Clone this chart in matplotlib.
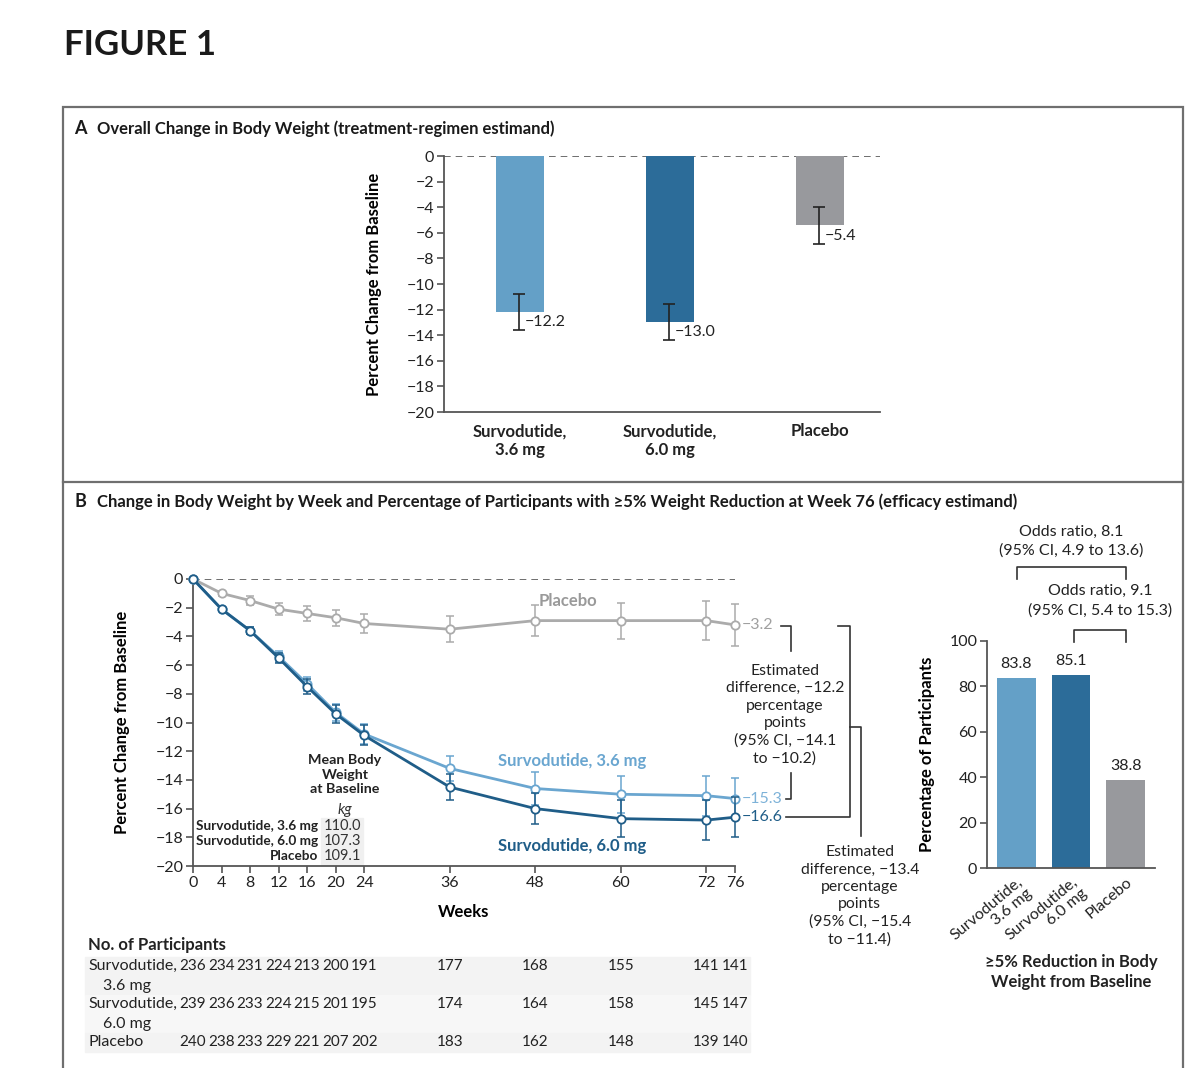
import matplotlib
matplotlib.use("Agg")
import matplotlib.pyplot as plt
from matplotlib.lines import Line2D
from matplotlib.patches import Rectangle
from matplotlib.transforms import blended_transform_factory

plt.rcParams['font.family'] = ['Lato', 'DejaVu Sans']
plt.rcParams['axes.unicode_minus'] = True

# ---- data ----
groups_a = ["Survodutide,\n3.6 mg", "Survodutide,\n6.0 mg", "Placebo"]
change_a = [-12.2, -13.0, -5.4]
ci_low_a = [-13.6, -14.4, -6.9]
ci_high_a = [-10.8, -11.6, -4.0]

weeks = [0, 4, 8, 12, 16, 20, 24, 36, 48, 60, 72, 76]
placebo = [0, -1.0, -1.5, -2.1, -2.4, -2.7, -3.1, -3.5, -2.9, -2.9, -2.9, -3.2]
placebo_err = [0, 0.15, 0.3, 0.4, 0.5, 0.55, 0.65, 0.9, 1.1, 1.25, 1.35, 1.45]
surv36 = [0, -2.1, -3.6, -5.4, -7.3, -9.3, -10.8, -13.2, -14.6, -15.0, -15.1, -15.3]
surv36_err = [0, 0.15, 0.25, 0.35, 0.5, 0.6, 0.7, 0.9, 1.15, 1.3, 1.4, 1.45]
surv60 = [0, -2.1, -3.6, -5.5, -7.5, -9.4, -10.9, -14.5, -16.0, -16.7, -16.8, -16.6]
surv60_err = [0, 0.15, 0.25, 0.35, 0.5, 0.6, 0.7, 0.9, 1.1, 1.3, 1.4, 1.4]
xticks_b = [0, 4, 8, 12, 16, 20, 24, 36, 48, 60, 72, 76]

baseline_names = ["Survodutide, 3.6 mg", "Survodutide, 6.0 mg", "Placebo"]
baseline_kg = ["110.0", "107.3", "109.1"]

pct_5 = [83.8, 85.1, 38.8]
groups_c = ["Survodutide,\n3.6 mg", "Survodutide,\n6.0 mg", "Placebo"]

n_36 = [236, 234, 231, 224, 213, 200, 191, 177, 168, 155, 141, 141]
n_60 = [239, 236, 233, 224, 215, 201, 195, 174, 164, 158, 145, 147]
n_pl = [240, 238, 233, 229, 221, 207, 202, 183, 162, 148, 139, 140]

light = "#64A0C7"
dark = "#2C6C99"
grey = "#98999D"
line36 = "#6AA6D0"
line60 = "#1F5D88"
linepl = "#ABABAB"
axcol = "#555555"
txt = "#222222"

W, H = 1200, 1068
fig = plt.figure(figsize=(W / 100, H / 100), dpi=100)


def box(l, t, r, b):
    return [l / W, 1 - b / H, (r - l) / W, (b - t) / H]


def fx(px):
    return px / W


def fy(py):
    return 1 - py / H


def style_axes(ax):
    for s in ["top", "right"]:
        ax.spines[s].set_visible(False)
    for s in ["left", "bottom"]:
        ax.spines[s].set_color(axcol)
        ax.spines[s].set_linewidth(1.3)
    ax.tick_params(colors=txt, labelsize=11.5, width=1.2, length=5, pad=2)
    ax.tick_params(axis="both", color=axcol)


# ---- frame ----
fig.text(fx(64), fy(45), "FIGURE 1", fontsize=25, fontweight="bold",
         va="center", ha="left", color="#1a1a1a")
fig.add_artist(Rectangle((fx(63), fy(1075)), fx(1183) - fx(63), fy(107) - fy(1075),
                         transform=fig.transFigure, fill=False, ec="#6f6f6f", lw=1.6))
fig.add_artist(Line2D([fx(63), fx(1183)], [fy(482), fy(482)],
                      transform=fig.transFigure, color="#6f6f6f", lw=1.6))
fig.text(fx(74), fy(129), "A", fontsize=13, fontweight="bold", va="center", color="#1a1a1a")
fig.text(fx(97), fy(129), "Overall Change in Body Weight (treatment-regimen estimand)",
         fontsize=12, fontweight="bold", va="center", color="#1a1a1a")
fig.text(fx(74), fy(502), "B", fontsize=13, fontweight="bold", va="center", color="#1a1a1a")
fig.text(fx(97), fy(502), "Change in Body Weight by Week and Percentage of Participants "
         "with \u22655% Weight Reduction at Week 76 (efficacy estimand)",
         fontsize=12, fontweight="bold", va="center", color="#1a1a1a")

# ---- panel A ----
axA = fig.add_axes(box(444, 156, 880, 412))
style_axes(axA)
xa = [0, 1, 2]
axA.bar(xa, change_a, width=0.32, color=[light, dark, grey], zorder=2)
yerr = [[c - lo for c, lo in zip(change_a, ci_low_a)],
        [hi - c for c, hi in zip(change_a, ci_high_a)]]
axA.errorbar([x - 0.01 for x in xa], change_a, yerr=yerr, fmt="none", ecolor=txt,
             elinewidth=1.2, capsize=4, capthick=1.2, zorder=3)
for x, lo, v in zip(xa, ci_low_a, change_a):
    axA.text(x + 0.03, lo + 0.65, f"{v:.1f}".replace("-", "\u2212"),
             fontsize=11.5, va="center", ha="left", color=txt)
axA.axhline(0, color=axcol, lw=1.2, ls=(0, (4, 3)), zorder=1)
axA.set_xlim(-0.507, 2.4)
axA.set_ylim(-20, 0)
axA.set_yticks(range(-20, 1, 2))
axA.set_xticks(xa)
axA.set_xticklabels(groups_a, fontweight="bold", fontsize=12)
axA.tick_params(axis="x", length=0, pad=8)
axA.set_ylabel("Percent Change from Baseline", fontsize=12, fontweight="bold")
axA.yaxis.set_label_coords(-0.142, 0.5)

# ---- panel B line chart ----
axB = fig.add_axes(box(193, 579, 735, 866))
style_axes(axB)
axB.axhline(0, color=axcol, lw=1.2, ls=(0, (4, 3)), zorder=1)
axB.set_xlim(0, 76)
axB.set_ylim(-20, 0)
for y, e, c, z in [(placebo, placebo_err, linepl, 3), (surv36, surv36_err, line36, 4),
                   (surv60, surv60_err, line60, 5)]:
    axB.errorbar(weeks, y, yerr=e, fmt="none", ecolor=c, elinewidth=1.1, capsize=3,
                 capthick=1.1, zorder=z, clip_on=False)
    axB.plot(weeks, y, color=c, lw=2, marker="o", ms=6, mfc="white", mec=c, mew=1.3,
             zorder=z, clip_on=False)
axB.set_xticks(xticks_b)
axB.set_yticks(range(-20, 1, 2))
axB.set_xlabel("Weeks", fontsize=12, fontweight="bold", labelpad=10)
axB.set_ylabel("Percent Change from Baseline", fontsize=12, fontweight="bold")
axB.yaxis.set_label_coords(-0.116, 0.5)

axB.text(52.6, -1.5, "Placebo", color="#9a9a9a", fontsize=12, fontweight="bold",
         ha="center", va="center")
axB.text(53.1, -12.7, "Survodutide, 3.6 mg", color=line36, fontsize=12, fontweight="bold",
         ha="center", va="center")
axB.text(53.1, -18.6, "Survodutide, 6.0 mg", color=line60, fontsize=12, fontweight="bold",
         ha="center", va="center")

# end labels
axB.text(77.0, placebo[-1], "\u22123.2", color="#a0a0a0", fontsize=11.5, va="center",
         ha="left", clip_on=False)
axB.text(77.0, surv36[-1], "\u221215.3", color="#7DB2D8", fontsize=11.5, va="center",
         ha="left", clip_on=False)
axB.text(77.0, surv60[-1], "\u221216.6", color=line60, fontsize=11.5, va="center",
         ha="left", clip_on=False)

# difference brackets
bk = dict(color="#333333", lw=1.2, clip_on=False)
axB.plot([82.4, 83.9, 83.9], [-3.25, -3.25, -5.05], **bk)
axB.plot([83.1, 83.9, 83.9], [-15.3, -15.3, -13.5], **bk)
axB.text(83.0, -9.45, "Estimated\ndifference, \u221212.2\npercentage\npoints\n"
         "(95% CI, \u221214.1\nto \u221210.2)", ha="center", va="center",
         fontsize=11.3, linespacing=1.3, color=txt)
axB.plot([90.5, 92.1, 92.1, 83.1], [-3.25, -3.25, -16.6, -16.6], **bk)
axB.plot([92.1, 93.6, 93.6], [-10.3, -10.3, -17.9], **bk)
axB.text(93.5, -22.1, "Estimated\ndifference, \u221213.4\npercentage\npoints\n"
         "(95% CI, \u221215.4\nto \u221211.4)", ha="center", va="center",
         fontsize=11.3, linespacing=1.3, color=txt, clip_on=False)

# mean body weight inset
axB.text(21.3, -13.65, "Mean Body\nWeight\nat Baseline", ha="center", va="center",
         fontsize=10.3, fontweight="bold", linespacing=1.25, color=txt, zorder=6)
axB.text(21.3, -16.1, "kg", ha="center", va="center", fontsize=11, style="italic",
         color="#333333")
axB.add_patch(Rectangle((18.0, -19.95), 5.8, 3.3, color="#f0f0f0", zorder=0.5))
for i, (nm, kg) in enumerate(zip(baseline_names, baseline_kg)):
    yy = -17.2 - 1.05 * i
    axB.text(17.6, yy, nm, ha="right", va="center", fontsize=9.8, fontweight="bold",
             color=txt)
    axB.text(18.4, yy, kg, ha="left", va="center", fontsize=10.5, color="#333333")

# ---- panel B bar chart ----
axC = fig.add_axes(box(987, 641, 1155, 868))
style_axes(axC)
xc = [0, 1, 2]
axC.bar(xc, pct_5, width=0.71, color=[light, dark, grey])
for x, v in zip(xc, pct_5):
    axC.text(x, v + 3, f"{v:.1f}", ha="center", va="bottom", fontsize=11.5, color=txt)
axC.set_xlim(-0.53, 2.53)
axC.set_ylim(0, 100)
axC.set_yticks(range(0, 101, 20))
axC.set_xticks(xc)
axC.set_xticklabels(groups_c, rotation=40, ha="right", rotation_mode="anchor",
                    fontsize=11.5, linespacing=1.1)
axC.tick_params(axis="x", length=0, pad=5)
axC.set_ylabel("Percentage of Participants", fontsize=12, fontweight="bold")
axC.yaxis.set_label_coords(-0.31, 0.5)
axC.plot([0.02, 0.02, 2.0, 2.0], [127.5, 132.5, 132.5, 127.5], **bk)
axC.text(1.0, 148, "Odds ratio, 8.1", ha="center", va="center", fontsize=11.5,
         color=txt)
axC.text(1.0, 140, "(95% CI, 4.9 to 13.6)", ha="center", va="center", fontsize=11.5,
         color=txt)
axC.plot([1.05, 1.05, 2.0, 2.0], [99.5, 104.8, 104.8, 99.5], **bk)
axC.text(1.53, 122, "Odds ratio, 9.1", ha="center", va="center", fontsize=11.5,
         color=txt)
axC.text(1.53, 113.5, "(95% CI, 5.4 to 15.3)", ha="center", va="center", fontsize=11.5,
         color=txt)
fig.text(fx(1071), fy(972), "\u22655% Reduction in Body\nWeight from Baseline",
         ha="center", va="center", fontsize=12, fontweight="bold", linespacing=1.25,
         color=txt)

# ---- number at risk table ----
for top, bot, c in [(957, 995, "#f3f3f3"), (995, 1033, "#f7f7f7"), (1033, 1052, "#f3f3f3")]:
    fig.add_artist(Rectangle((fx(85), fy(bot)), fx(750) - fx(85), fy(top) - fy(bot),
                             transform=fig.transFigure, color=c, zorder=0))
fig.text(fx(88), fy(945), "No. of Participants", fontsize=12, fontweight="bold",
         va="center", color=txt)
row_y = [966, 1004, 1042]
row_lab = [("Survodutide,", "3.6 mg"), ("Survodutide,", "6.0 mg"), ("Placebo", None)]
tr = blended_transform_factory(axB.transData, fig.transFigure)
for yy, (l1, l2), counts in zip(row_y, row_lab, [n_36, n_60, n_pl]):
    fig.text(fx(88), fy(yy), l1, fontsize=11.5, va="center", color=txt)
    if l2:
        fig.text(fx(103), fy(yy + 20), l2, fontsize=11.5, va="center", color=txt)
    for wk, n in zip(weeks, counts):
        axB.text(wk, fy(yy), str(n), transform=tr, ha="center", va="center",
                 fontsize=11, color=txt, clip_on=False)

fig.savefig("out.png", dpi=100, facecolor="white")
